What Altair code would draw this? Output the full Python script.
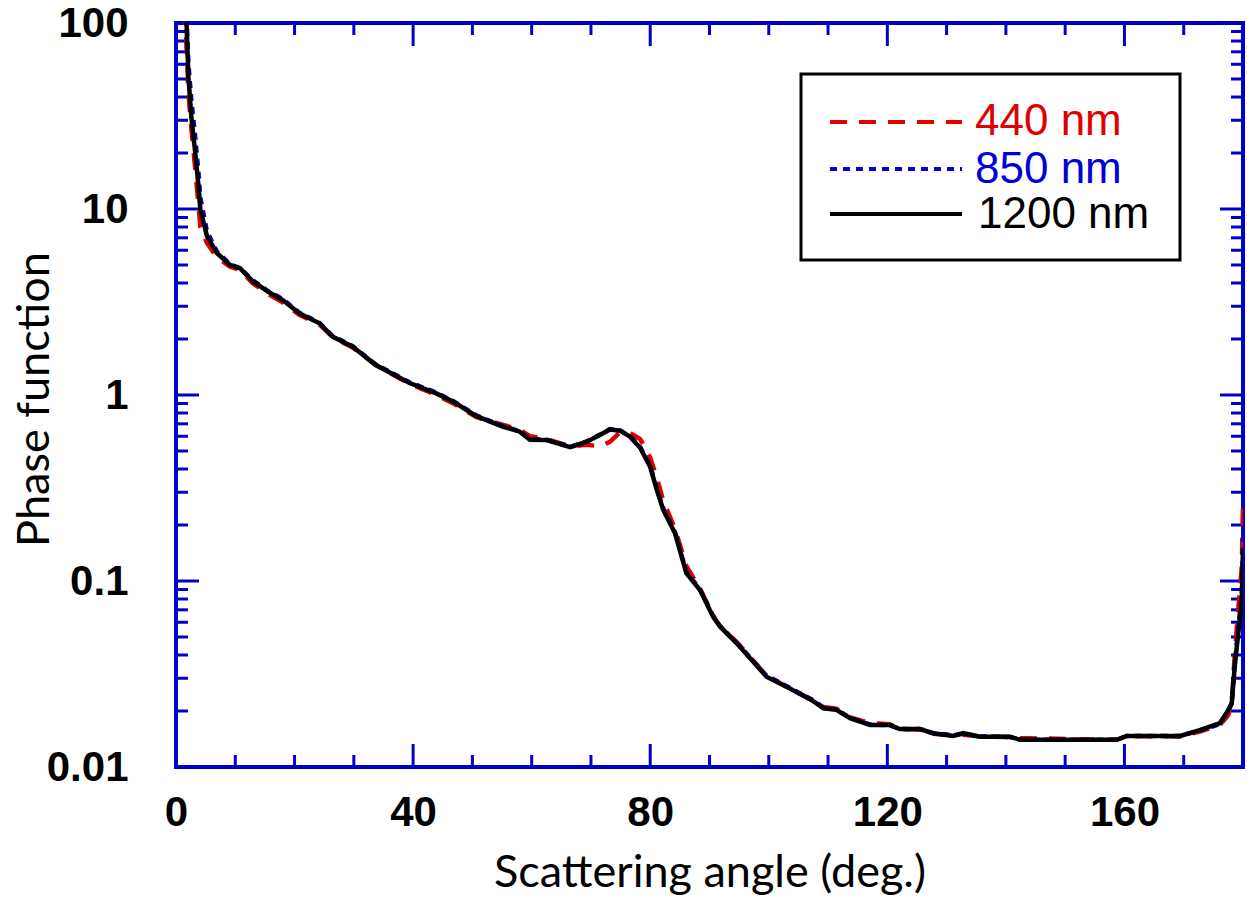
import altair as alt
import pandas as pd

# ---------------- data ----------------
angle = [1.5, 1.8, 2.1, 2.6, 3.2, 3.8, 4.1, 5.2, 6.9, 9.1, 10.8, 12.9, 15.5, 18.0,
         20.8, 24.2, 26.4, 29.8, 33.7, 39.4, 43.9, 46.8, 50.7, 55.2, 58.0, 59.7,
         62.5, 66.5, 69.3, 71.5, 73.2, 74.9, 76.6, 78.3, 80.0, 81.1, 82.2, 84.2,
         86.1, 88.4, 90.6, 91.8, 94.6, 99.6, 103.0, 107.5, 109.2, 111.4, 113.7,
         117.1, 120.4, 122.1, 125.5, 127.7, 131.1, 132.8, 135.6, 140.7, 142.4,
         158.7, 160.4, 169.4, 172.7, 176.1, 177.5, 178.1, 178.6, 179.2, 179.8, 180.0]

p1200 = [150, 95, 51, 31, 20.7, 13.2, 10.0, 7.2, 5.8, 5.0, 4.8, 4.1, 3.6, 3.24,
         2.75, 2.43, 2.06, 1.82, 1.45, 1.16, 1.02, 0.92, 0.77, 0.675, 0.635, 0.575,
         0.573, 0.524, 0.561, 0.61, 0.653, 0.643, 0.597, 0.52, 0.41, 0.31, 0.241, 0.18,
         0.11, 0.0894, 0.0643, 0.0568, 0.0462, 0.0306, 0.027, 0.0226, 0.0207, 0.0203, 0.0183,
         0.0168, 0.0168, 0.0160, 0.0160, 0.0152, 0.0147, 0.0152, 0.01455, 0.01455, 0.0140,
         0.0140, 0.0147, 0.0147, 0.0158, 0.0172, 0.0202, 0.022, 0.0347, 0.0524, 0.079, 0.15]

p850 = [150, 100, 60, 38, 25, 15.5, 11.5, 7.6, 5.9, 5.05, 4.8, 4.15, 3.62, 3.28,
        2.77, 2.44, 2.08, 1.83, 1.46, 1.17, 1.03, 0.925, 0.775, 0.68, 0.64, 0.58,
        0.575, 0.526, 0.563, 0.612, 0.655, 0.645, 0.60, 0.525, 0.415, 0.315, 0.245, 0.182,
        0.112, 0.09, 0.065, 0.057, 0.0465, 0.031, 0.0272, 0.0228, 0.0209, 0.0204, 0.0184,
        0.0169, 0.0168, 0.0160, 0.0160, 0.0152, 0.0148, 0.0151, 0.0146, 0.0145, 0.0140,
        0.0140, 0.0147, 0.0147, 0.0157, 0.0170, 0.0200, 0.022, 0.036, 0.056, 0.085, 0.17]

p440 = [120, 70, 42, 27, 17, 10.5, 8.0, 6.6, 5.5, 4.9, 4.7, 4.0, 3.5, 3.15,
        2.7, 2.4, 2.05, 1.8, 1.45, 1.15, 1.0, 0.9, 0.76, 0.69, 0.65, 0.60,
        0.58, 0.53, 0.54, 0.53, 0.56, 0.63, 0.625, 0.58, 0.46, 0.36, 0.27, 0.19,
        0.12, 0.091, 0.065, 0.057, 0.047, 0.031, 0.027, 0.0228, 0.021, 0.0206, 0.0185,
        0.0172, 0.0170, 0.0160, 0.0159, 0.0151, 0.0148, 0.0149, 0.0146, 0.0145, 0.0143,
        0.0140, 0.0147, 0.0146, 0.0155, 0.0168, 0.019, 0.022, 0.04, 0.07, 0.12, 0.26]

names = ["440 nm", "850 nm", "1200 nm"]
colors = ["#e00000", "#0000dd", "#000000"]

x_labels = [0, 40, 80, 120, 160]
x_minor = [10, 20, 30, 50, 60, 70, 90, 100, 110, 130, 140, 150, 170]
y_labels = [0.01, 0.1, 1, 10, 100]
y_minor = [0.02, 0.03, 0.04, 0.05, 0.06, 0.07, 0.08, 0.09,
           0.2, 0.3, 0.4, 0.5, 0.6, 0.7, 0.8, 0.9,
           2, 3, 4, 5, 6, 7, 8, 9,
           20, 30, 40, 50, 60, 70, 80, 90]

# ---------------- layout ----------------
W, H = 1067, 744
FRAME = "#0000cc"
xs = alt.Scale(domain=[0, 180], nice=False, zero=False)
ys = alt.Scale(type="log", domain=[0.01, 100], nice=False)


def series_df(vals):
    return pd.DataFrame({"angle": angle, "value": vals})


x_axis = alt.Axis(values=x_labels, format="d", ticks=False, domain=False, grid=False,
                  labelFont="Liberation Sans", labelFontWeight="bold", labelFontSize=42,
                  labelColor="black", labelPadding=25, labelFlush=False, labelOverlap=False,
                  title="Scattering angle (deg.)", titleFont="Lato", titleFontSize=45,
                  titleFontWeight="normal", titleColor="black", titleBaseline="alphabetic",
                  titleY=119, titleX=W / 2, titleAlign="center")
y_axis = alt.Axis(values=y_labels, format="~g", ticks=False, domain=False, grid=False,
                  labelFont="Liberation Sans", labelFontWeight="bold", labelFontSize=42,
                  labelColor="black", labelPadding=48, labelFlush=False, labelOverlap=False,
                  title="Phase function", titleFont="Lato", titleFontSize=45,
                  titleFontWeight="normal", titleColor="black", titleBaseline="alphabetic",
                  titleX=-128, titleY=H / 2 + 4, titleAlign="center", titleAngle=-90)

X = alt.X("angle:Q", scale=xs, axis=x_axis)
Y = alt.Y("value:Q", scale=ys, axis=y_axis)

red = alt.Chart(series_df(p440)).mark_line(
    color=colors[0], strokeWidth=4.5, strokeDash=[17, 12], clip=True
).encode(x=X, y=Y)

blue = alt.Chart(series_df(p850)).mark_line(
    color=colors[1], strokeWidth=4.5, strokeDash=[7, 6], clip=True
).encode(x=X, y=Y)

black = alt.Chart(series_df(p1200)).mark_line(
    color=colors[2], strokeWidth=4.5, clip=True
).encode(x=X, y=Y)

# ticks (inward, on all four sides)
tick_layers = []
for vals, ln in [(x_labels, 23), (x_minor, 12)]:
    d = pd.DataFrame({"angle": vals})
    for y0, y1 in [(H, H - ln), (0, ln)]:
        tick_layers.append(
            alt.Chart(d).mark_rule(color=FRAME, strokeWidth=3).encode(
                x=X, y=alt.value(y0), y2=alt.value(y1)))
for vals, ln in [(y_labels, 23), (y_minor, 12)]:
    d = pd.DataFrame({"value": vals})
    for x0, x1 in [(0, ln), (W, W - ln)]:
        tick_layers.append(
            alt.Chart(d).mark_rule(color=FRAME, strokeWidth=3).encode(
                y=Y, x=alt.value(x0), x2=alt.value(x1)))

# legend
one = pd.DataFrame({"k": [0]})
legend_layers = [
    alt.Chart(one).mark_rect(fill="white", stroke="black", strokeWidth=3).encode(
        x=alt.value(625), x2=alt.value(1004), y=alt.value(51), y2=alt.value(237))
]
leg_line_y = [99, 146, 191]
leg_text_y = [112, 160, 205]
leg_text_x = [799, 799, 802]
leg_dash = [[17, 12], [7, 6], [1, 0]]
for i in range(3):
    legend_layers.append(
        alt.Chart(one).mark_rule(color=colors[i], strokeWidth=4, strokeDash=leg_dash[i]).encode(
            x=alt.value(654), x2=alt.value(786), y=alt.value(leg_line_y[i])))
    legend_layers.append(
        alt.Chart(one).mark_text(text=names[i], color=colors[i], font="Liberation Sans",
                                 fontSize=44, align="left", baseline="alphabetic").encode(
            x=alt.value(leg_text_x[i]), y=alt.value(leg_text_y[i])))

chart = alt.layer(*tick_layers, red, blue, black, *legend_layers).properties(
    width=W, height=H,
    padding={"left": 176, "top": 23, "right": 4, "bottom": 132},
    autosize=alt.AutoSizeParams(type="none"),
    background="white",
).configure_view(stroke=FRAME, strokeWidth=4)

chart.save("out.html", embed_options={"renderer": "svg", "actions": False})
